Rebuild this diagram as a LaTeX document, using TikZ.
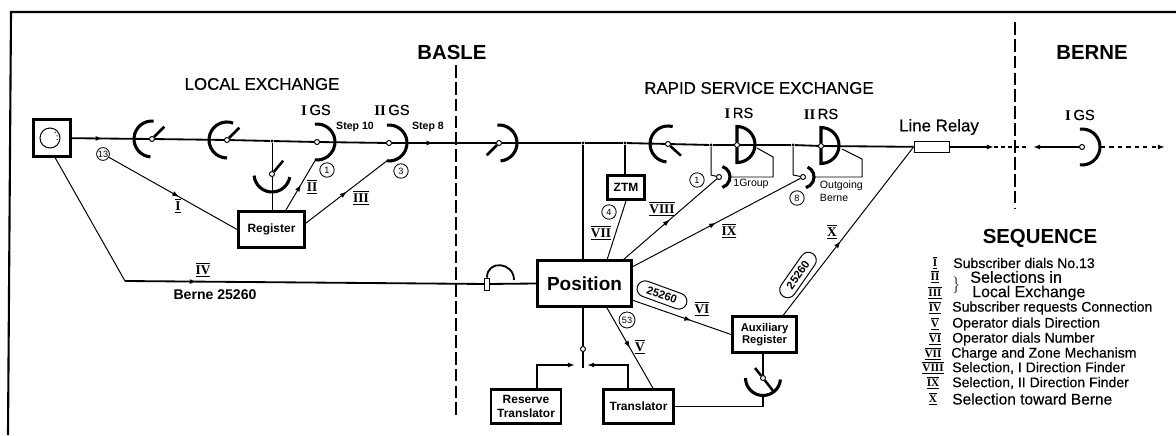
\documentclass[tikz,border=0pt]{standalone}
\usepackage{fontspec}
\setmainfont{Liberation Sans}
\newfontfamily\letterfont[FakeBold=0.35]{Liberation Sans}
\newfontfamily\romanfont{Liberation Serif}
\usetikzlibrary{arrows.meta,decorations.markings,shapes.misc}
\newcommand{\barnum}[1]{$\overline{\underline{\hbox{\romanfont\bfseries #1}}}$}
\newcommand{\selector}[5]{%
  \draw[selarc] (#1) ++(#2:#5) arc[start angle=#2, end angle=#3, radius=#5];
  \draw[selarm] (#1) -- ++(#4:0.8*#5+3);}
\newcommand{\gsgate}[1]{%
  \draw[selarc] (#1) ++(97:18) arc[start angle=97, end angle=-97, radius=18];}
\newcommand{\rsgate}[1]{%
  \draw[selarc] (#1.north) -- ++(0,15.5) arc[start angle=90, end angle=-90, radius=18] -- (#1.south);}
\begin{document}
\begin{tikzpicture}[
  x=0.025cm, y=0.025cm,
  >={Latex[length=5pt,width=3.5pt]},
  main/.style={line width=1.3pt},
  wire/.style={line width=0.7pt},
  selarc/.style={line width=2.2pt},
  selarm/.style={line width=1.8pt},
  pivot/.style={circle, draw, fill=white, line width=0.7pt, inner sep=0pt, minimum size=0.125cm},
  junction/.style={circle, fill=black, inner sep=0pt, minimum size=0.08cm},
  box/.style={draw, line width=2pt, inner sep=0pt, align=center, font=\bfseries\fontsize{8.5}{9.5}\selectfont},
  num/.style={circle, draw, line width=0.6pt, inner sep=0pt, minimum size=0.36cm, font=\fontsize{6.5}{7}\selectfont},
  tag/.style={font=\romanfont\bfseries\fontsize{9.5}{10}\selectfont},
  head/.style={font=\letterfont\fontsize{12}{14}\selectfont},
  unit/.style={font=\letterfont\fontsize{10.5}{12}\selectfont},
  place/.style={font=\bfseries\fontsize{14.5}{17}\selectfont},
  small/.style={font=\fontsize{7.5}{9}\selectfont},
  oval/.style={rounded rectangle, draw, line width=0.7pt, inner sep=0pt, minimum width=1.3cm, minimum height=0.4cm, font=\bfseries\fontsize{8}{9}\selectfont},
  seqtext/.style={anchor=west, inner sep=0pt, font=\letterfont\fontsize{10}{12}\selectfont},
  seqnum/.style={font=\romanfont\bfseries\fontsize{8}{9}\selectfont},
  midarrow/.style={postaction={decorate}, decoration={markings, mark=at position #1 with {\arrow{Latex[length=5pt,width=3.5pt]}}}}
]
  \useasboundingbox (0,0) rectangle (1176,435);

  % frame and separators
  \coordinate (framea) at (8,0);
  \coordinate (frameb) at (11,423);
  \coordinate (framec) at (1176,423);
  \draw[line width=1.5pt] (framea) -- (frameb) -- (framec);
  \coordinate (basletop) at (456,370);
  \coordinate (baslebot) at (456,17);
  \coordinate (bernetop) at (1015,413);
  \coordinate (bernebot) at (1015,227);
  \draw[line width=1pt, dash pattern=on 9pt off 3pt] (basletop) -- (baslebot);
  \draw[line width=1pt, dash pattern=on 9pt off 3pt] (bernetop) -- (bernebot);

  % titles
  \node[place] (basle) at (452,383) {BASLE};
  \node[place] (berne) at (1092,383) {BERNE};
  \node[head] (local) at (262,351) {LOCAL EXCHANGE};
  \node[head] (rapid) at (759,347) {RAPID SERVICE EXCHANGE};

  % subscriber line
  \node[draw, line width=2pt, minimum size=0.92cm, inner sep=0pt] (phone) at (52,297) {};
  \node[circle, draw, line width=0.7pt, minimum size=0.5cm, inner sep=0pt] (dial) at (50,297) {};
  \draw[dotted, line width=0.7pt] (dial) ++(50:7.5) arc[start angle=50, end angle=-30, radius=7.5];

  % switches
  \node[pivot] (s1) at (152,296) {};
  \node[pivot] (s2) at (227,295) {};
  \node[junction] (j1) at (272,294) {};
  \node[pivot] (s3) at (272,261) {};
  \node[pivot] (gs1) at (317,293) {};
  \node[pivot] (gs2) at (389,292) {};
  \node[pivot] (b1) at (499,292) {};
  \node[junction] (j2) at (583,292) {};
  \node[junction] (j3) at (625,292) {};
  \node[pivot] (rs0) at (668,291) {};
  \node[junction] (j4) at (711,290) {};
  \node[pivot] (rs1) at (737,290) {};
  \node[junction] (j5) at (793,290) {};
  \node[pivot] (rs2) at (821,289) {};
  \node[pivot] (g1) at (719,258) {};
  \node[pivot] (g2) at (803,258) {};
  \node[pivot] (bgs) at (1082,288) {};
  \node[pivot] (s4) at (763,57) {};
  \selector{s1}{85}{265}{45}{18}
  \selector{s2}{70}{270}{45}{18}
  \selector{s3}{185}{350}{50}{18}
  \gsgate{gs1}
  \gsgate{gs2}
  \gsgate{bgs}
  \selector{b1}{95}{-85}{225}{18}
  \selector{rs0}{75}{265}{-42}{18}
  \rsgate{rs1}
  \rsgate{rs2}
  \selector{s4}{180}{355}{-52}{17.5}
  \coordinate (s4arm) at (755,67);
  \draw[selarm] (s4) -- (s4arm);
  \draw[selarc] (g1) ++(72:11) arc[start angle=72, end angle=-72, radius=11];
  \draw[selarc] (g2) ++(65:11) arc[start angle=65, end angle=-75, radius=11];

  % boxes
  \node[box, minimum width=1.65cm, minimum height=0.9cm] (reg) at (271.5,205.5) {Register};
  \node[box, line width=2.4pt, minimum width=2.35cm, minimum height=1.15cm, font=\bfseries\fontsize{13.5}{15}\selectfont] (pos) at (584.5,151.5) {Position};
  \node[box, minimum width=0.92cm, minimum height=0.6cm] (ztm) at (626,247.5) {ZTM};
  \node[box, minimum width=1.6cm, minimum height=0.9cm, font=\bfseries\fontsize{8}{9}\selectfont] (aux) at (764.5,100.5) {Auxiliary\\Register};
  \node[box, minimum width=1.75cm, minimum height=0.85cm] (tr) at (638.5,28.5) {Translator};
  \node[box, minimum width=1.75cm, minimum height=0.85cm] (res) at (526,28.5) {Reserve\\Translator};
  \node[draw, line width=1.2pt, minimum width=0.88cm, minimum height=0.28cm, inner sep=0pt] (relay) at (932,288) {};
  \node[draw, line width=0.7pt, minimum width=0.13cm, minimum height=0.3cm, inner sep=0pt] (jack) at (487,151) {};
  \node[pivot] (cont) at (583,86) {};

  % main line
  \draw[main, midarrow=0.4] (phone) -- (s1);
  \draw[main] (s1) -- (s2);
  \draw[main] (s2) -- (j1);
  \draw[main] (j1) -- (gs1);
  \draw[main] (gs1) -- (gs2);
  \draw[main, midarrow=0.4] (gs2) -- (b1);
  \draw[main] (b1) -- (j2);
  \draw[main] (j2) -- (j3);
  \draw[main] (j3) -- (rs0);
  \draw[main] (rs0) -- (j4);
  \draw[main] (j4) -- (rs1);
  \draw[main] (rs1) -- (j5);
  \draw[main] (j5) -- (rs2);
  \draw[main] (rs2) -- (relay);
  \coordinate (relayend) at (994,288);
  \coordinate (breaka) at (1029,288);
  \coordinate (breakb) at (1033,288);
  \coordinate (bernend) at (1165,288);
  \coordinate (bgsout) at (1101,288);
  \draw[main, ->] (relay) -- (relayend);
  \draw[line width=1pt, densely dashed] (relayend) -- (breaka);
  \draw[main, <-] (breakb) -- (bgs);
  \draw[line width=1pt, dashed, ->] (bgsout) -- (bernend);

  % local exchange
  \draw[wire] (j1) -- (s3);
  \draw[wire] (s3) -- (s3 |- reg.north);
  \coordinate (gs1low) at (316,276);
  \coordinate (gs2low) at (388,275);
  \node[num, minimum size=0.32cm] (c13) at (103,281) {13};
  \node[num] (c1) at (327,265) {1};
  \node[num] (c3) at (401,264) {3};
  \draw[wire, midarrow=0.55] (c13) -- (reg.west);
  \draw[wire, midarrow=0.5] ([xshift=0.36cm]reg.north) -- (gs1low);
  \draw[wire, midarrow=0.5] ([yshift=0.16cm]reg.east) -- (gs2low);
  \node[tag] (t1) at (178,229) {\barnum{I}};
  \node[tag] (t2) at (312,248) {\barnum{II}};
  \node[tag] (t3) at (361,237) {\barnum{III}};
  \node[small, font=\bfseries\fontsize{7.5}{9}\selectfont] (step1) at (355,308) {Step 10};
  \node[small, font=\bfseries\fontsize{7.5}{9}\selectfont] (step2) at (428,308) {Step 8};
  \node[unit] (lgs1) at (316,325) {{\romanfont\bfseries I}\,GS};
  \node[unit] (lgs2) at (392,325) {{\romanfont\bfseries II}\,GS};

  % request line to the position
  \coordinate (bend) at (125,154);
  \draw[wire] ([xshift=0.08cm]phone.south) -- (bend);
  \draw[main, midarrow=0.2] (bend) -- (jack);
  \coordinate (hsend) at (514,155);
  \draw[main] (jack.north) to[out=90, in=90, looseness=1.7] (hsend);
  \draw[main] (jack) -- (pos.west);
  \node[tag] (t4) at (203,165) {\barnum{IV}};
  \node[font=\bfseries\fontsize{10}{12}\selectfont] (dialled) at (215,140) {Berne 25260};

  % rapid service exchange
  \draw[main] (j2) -- (j2 |- pos.north);
  \draw[main] (j3) -- (j3 |- ztm.north);
  \coordinate (g1in) at (711,260);
  \draw[wire] (j4) -- (g1in) -- (g1);
  \coordinate (g2in) at (793,260);
  \draw[wire] (j5) -- (g2in) -- (g2);
  \coordinate (lpa) at (757,287);
  \coordinate (lpb) at (773,278);
  \coordinate (lpc) at (773,258);
  \coordinate (lpd) at (731,258);
  \draw[wire] (lpa) -- (lpb) -- (lpc) -- (lpd);
  \coordinate (lqa) at (842,286);
  \coordinate (lqb) at (862,276);
  \coordinate (lqc) at (862,258);
  \coordinate (lqd) at (815,258);
  \draw[wire] (lqa) -- (lqb) -- (lqc) -- (lqd);
  \coordinate (posa) at (607,175);
  \coordinate (posb) at (623,175);
  \coordinate (posc) at (632,168);
  \draw[wire] (ztm.south) -- (posa);
  \draw[wire, midarrow=0.5] (posb) -- (g1);
  \draw[wire, midarrow=0.5] (posc) -- (g2);
  \node[num] (c4) at (609,223) {4};
  \node[num] (c1b) at (697,255) {1};
  \node[num] (c8) at (797,237) {8};
  \node[num, minimum size=0.4cm] (c53) at (627,115) {53};
  \node[tag] (t7) at (601,202) {\barnum{VII}};
  \node[tag] (t8) at (662,226) {\barnum{VIII}};
  \node[tag] (t9) at (729,204) {\barnum{IX}};
  \node[tag] (t10) at (832,203) {\barnum{X}};
  \node[small] (lgroup) at (751,251) {1Group};
  \node[small, anchor=west, align=left] (lout) at (815,244) {Outgoing\\Berne};
  \node[unit] (lrs1) at (739,322) {{\romanfont\bfseries I}\,RS};
  \node[unit] (lrs2) at (821,321) {{\romanfont\bfseries II}\,RS};
  \node[head] (lrelay) at (939,308) {Line Relay};
  \node[unit] (lbgs) at (1080,320) {{\romanfont\bfseries I}\,GS};

  % lines below the position
  \coordinate (posd) at (632,135);
  \coordinate (pose) at (607,127);
  \draw[wire, midarrow=0.6] (posd) -- (aux.west);
  \draw[wire, midarrow=0.44] ([xshift=0.47cm]aux.north) -- (relay.west);
  \draw[wire, midarrow=0.5] (pose) -- ([xshift=0.36cm]tr.north);
  \node[oval, rotate=-20, fill=white] (ovala) at (662,140) {25260};
  \node[oval, rotate=55, fill=white] (ovalb) at (798,160) {25260};
  \node[tag] (t6) at (702,126) {\barnum{VI}};
  \node[tag] (t5) at (640,88) {\barnum{V}};
  \coordinate (contb) at (583,67);
  \coordinate (tipres) at (575,70);
  \coordinate (tiptr) at (587,70);
  \draw[main] (j2 |- pos.south) -- (cont);
  \draw[main] (cont) -- (contb);
  \draw[main, ->] ([xshift=0.275cm]res.north) |- (tipres);
  \draw[main, ->] ([xshift=-0.26cm]tr.north) |- (tiptr);
  \coordinate (s4low) at (763,40);
  \draw[main] (tr.east) -| (s4low);
  \draw[main] (aux.south -| s4) -- (s4);

  % sequence
  \node[font=\bfseries\fontsize{14.5}{16}\selectfont] (seq) at (1040,197) {SEQUENCE};
  \node[seqnum] (n1) at (935,172) {\barnum{I}};
  \node[seqtext] (e1) at (953,172) {Subscriber dials No.13};
  \node[seqnum] (n2) at (935,158) {\barnum{II}};
  \node[seqnum] (n3) at (935,142) {\barnum{III}};
  \node (brace) at (956,150) {$\left.\rule{0pt}{0.29cm}\right\}$};
  \node[seqtext, font=\letterfont\fontsize{11.5}{13}\selectfont] (e2) at (970,158) {Selections in};
  \node[seqtext, font=\letterfont\fontsize{11.3}{13}\selectfont] (e3) at (972,142) {Local Exchange};
  \node[seqnum] (n4) at (935,127) {\barnum{IV}};
  \node[seqtext] (e4) at (952,127) {Subscriber requests Connection};
  \node[seqnum] (n5) at (935,111) {\barnum{V}};
  \node[seqtext] (e5) at (952,111) {Operator dials Direction};
  \node[seqnum] (n6) at (935,96) {\barnum{VI}};
  \node[seqtext] (e6) at (952,96) {Operator dials Number};
  \node[seqnum] (n7) at (933,81) {\barnum{VII}};
  \node[seqtext] (e7) at (951,81) {Charge and Zone Mechanism};
  \node[seqnum] (n8) at (933,67) {\barnum{VIII}};
  \node[seqtext] (e8) at (952,67) {Selection, I Direction Finder};
  \node[seqnum] (n9) at (933,52) {\barnum{IX}};
  \node[seqtext] (e9) at (952,52) {Selection, II Direction Finder};
  \node[seqnum] (n10) at (933,36) {\barnum{X}};
  \node[seqtext, font=\letterfont\fontsize{11}{13}\selectfont] (e10) at (952,36) {Selection toward Berne};
\end{tikzpicture}
\end{document}
